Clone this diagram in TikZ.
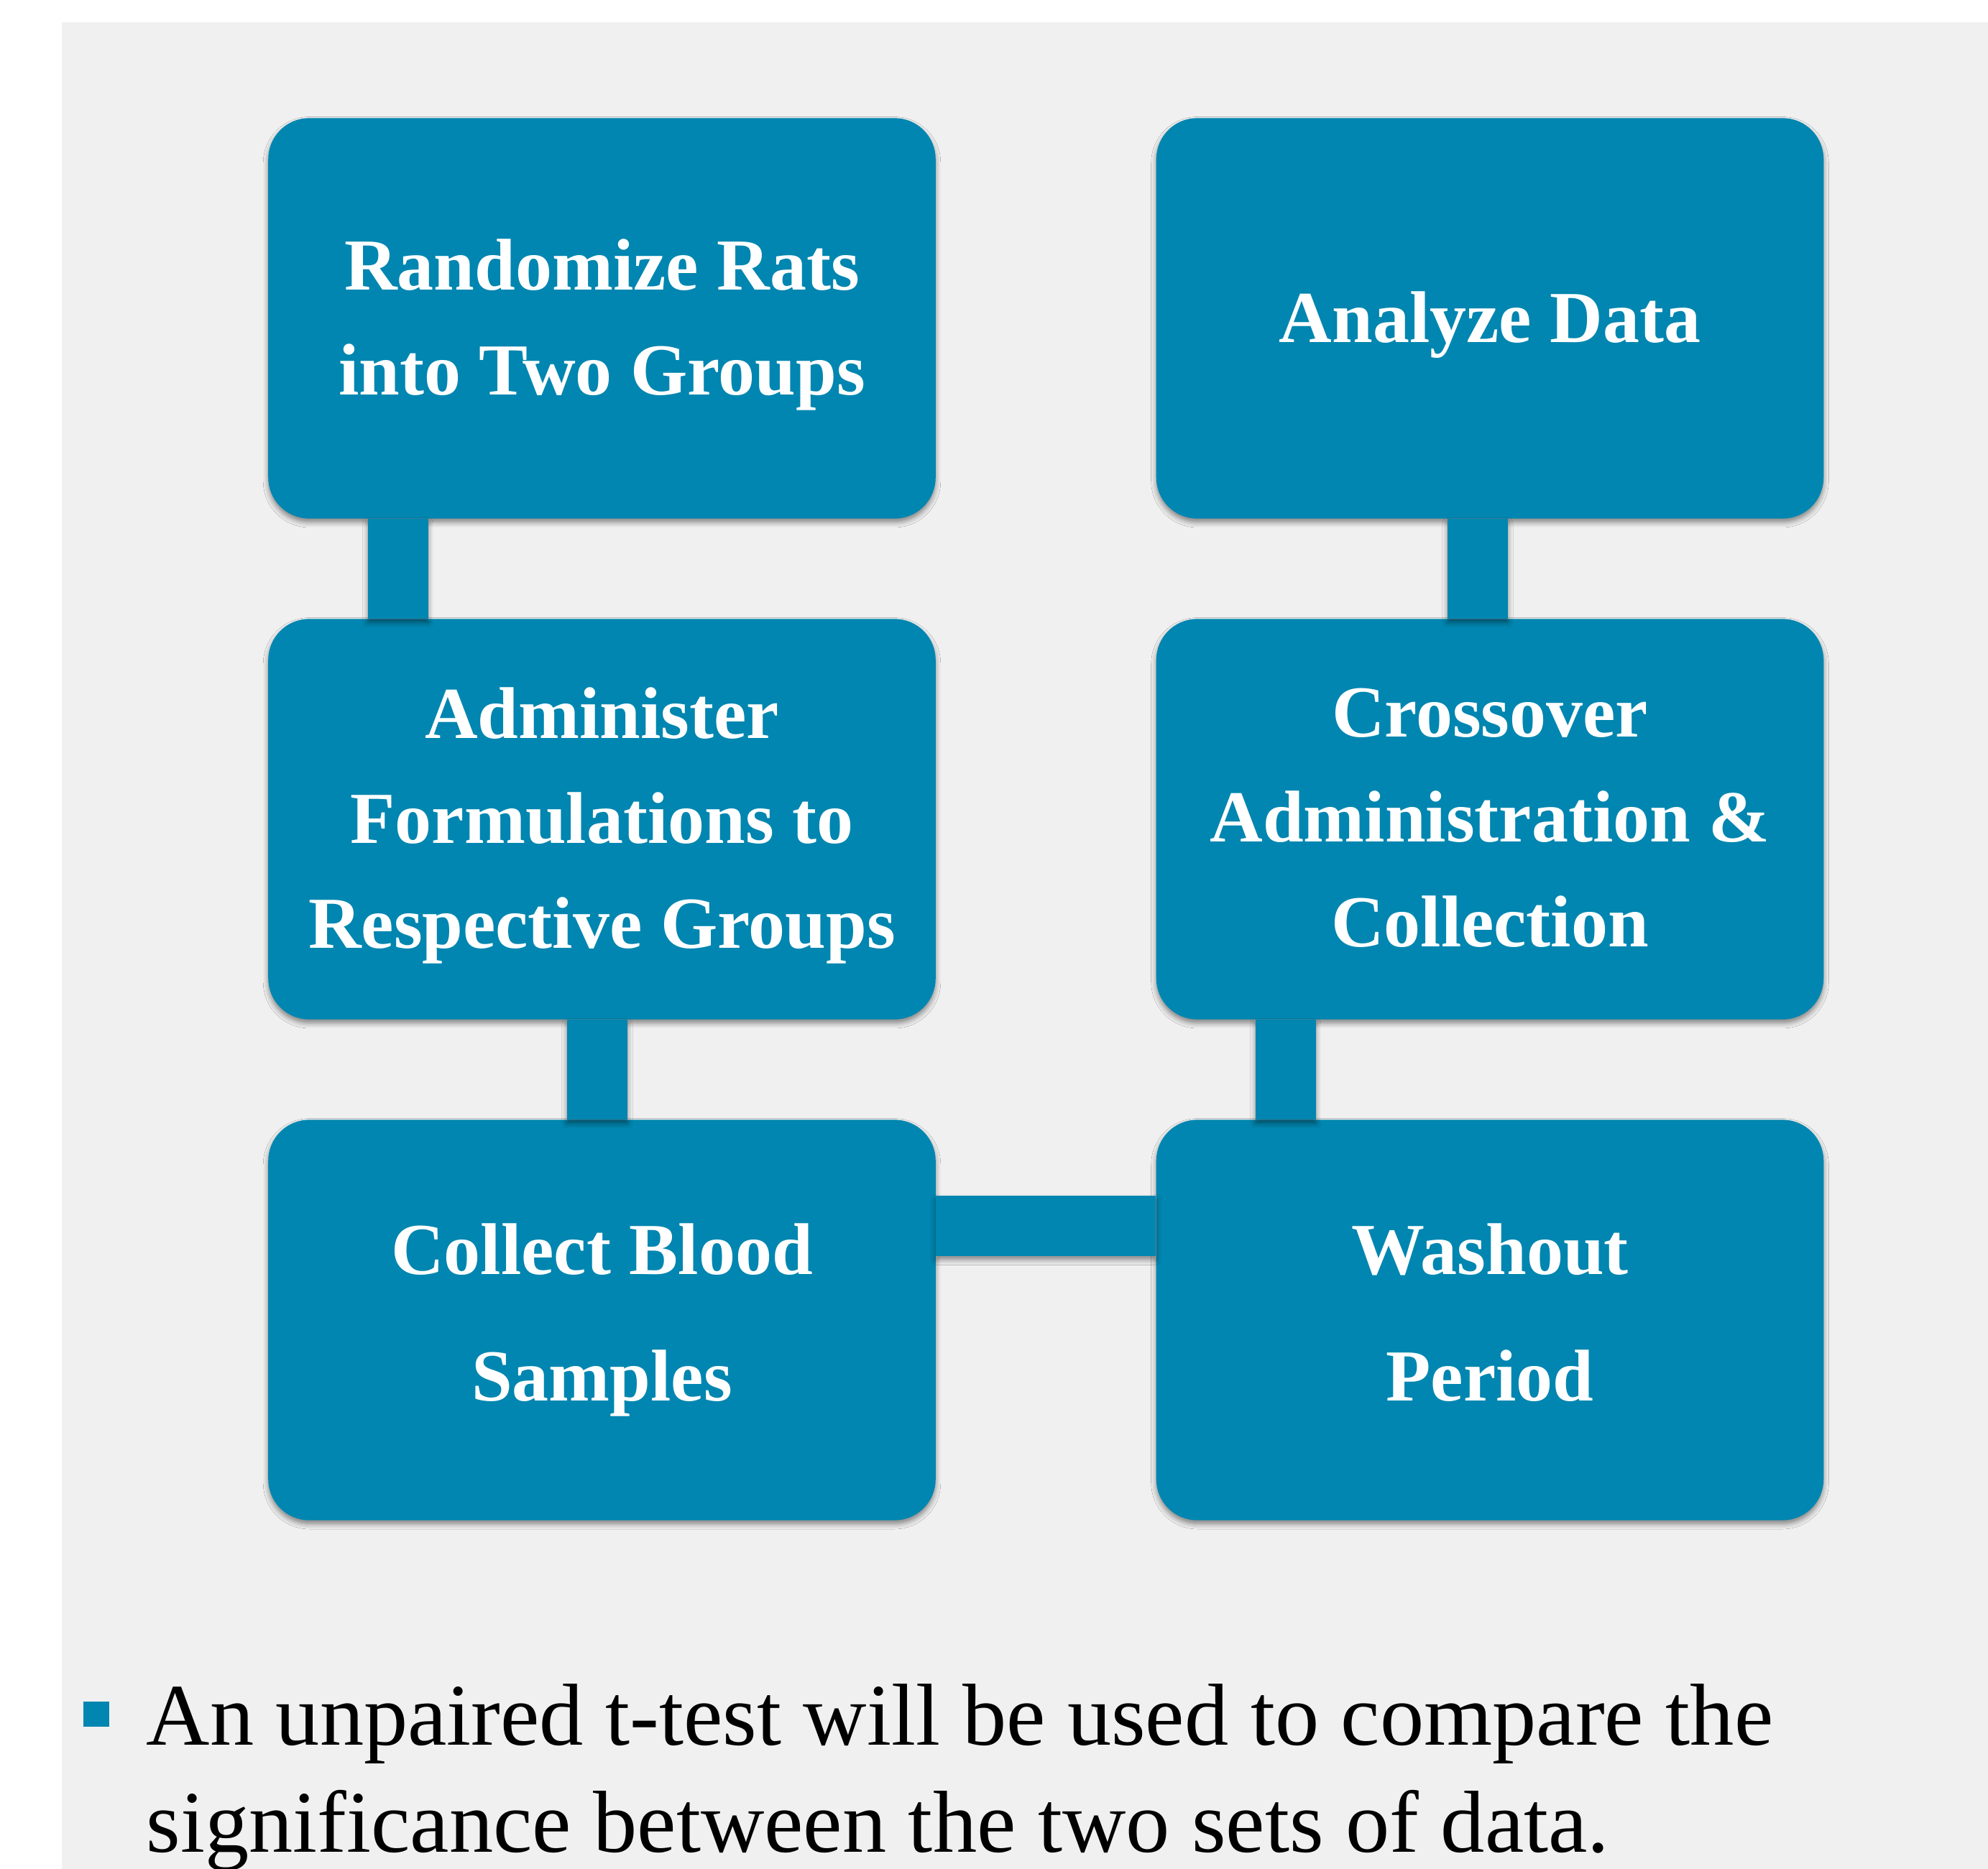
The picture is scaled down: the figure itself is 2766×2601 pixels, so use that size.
\documentclass[tikz,border=0pt]{standalone}
\usepackage{fontspec}
\setmainfont{Liberation Serif}
\usetikzlibrary{shadows.blur}

\definecolor{stepblue}{RGB}{0,134,176}
\definecolor{slidegray}{RGB}{240,240,240}

\begin{document}
\begin{tikzpicture}
  [x=0.01cm,y=-0.01cm,
   stepbox/.style={rectangle,rounded corners=0.57cm,fill=stepblue,text=white,
     minimum width=9.28cm,minimum height=5.57cm,align=center,text depth=1.3pt,
     font=\bfseries\fontsize{29}{41.5}\selectfont,
     blur shadow={shadow xshift=0pt,shadow yshift=-1.5pt,shadow blur radius=2pt,shadow opacity=45}},
   widebox/.style={stepbox,text depth=6.3pt,font=\bfseries\fontsize{29}{50}\selectfont},
   link/.style={fill=stepblue,
     blur shadow={shadow xshift=0pt,shadow yshift=-1.5pt,shadow blur radius=2pt,shadow opacity=45}}]
  \useasboundingbox (0,0) rectangle (2766,2601);
  \fill[slidegray] (86,31) rectangle (2766,2601);

  \node[stepbox] (rats) at (837.5,443) {Randomize Rats\\into Two Groups};
  \node[stepbox] (admin) at (837.5,1140) {Administer\\Formulations to\\Respective Groups};
  \node[widebox] (blood) at (837.5,1837) {Collect Blood\\Samples};
  \node[widebox] (washout) at (2073,1837) {Washout\\Period};
  \node[stepbox] (cross) at (2073,1140) {Crossover\\Administration \&\\Collection};
  \node[stepbox] (data) at (2073,443) {Analyze Data};

  % bars between the steps
  \fill[link] ([xshift=-3.255cm]rats.south) rectangle ([xshift=-2.415cm]admin.north);
  \fill[link] ([xshift=-0.485cm]admin.south) rectangle ([xshift=0.355cm]blood.north);
  \fill[link] ([yshift=1.73cm]blood.east) rectangle ([yshift=0.89cm]washout.west);
  \fill[link] ([xshift=-3.26cm]washout.north) rectangle ([xshift=-2.42cm]cross.south);
  \fill[link] ([xshift=-0.59cm]cross.north) rectangle ([xshift=0.25cm]data.south);

  \node[fill=stepblue,minimum width=0.36cm,minimum height=0.35cm,inner sep=0pt] (dot) at (134,2385.5) {};
  \node[anchor=base west,inner sep=0pt,align=left,font=\fontsize{34.8}{42.1}\selectfont] (note) at (203,2577)
    {An unpaired t-test will be used to compare the\\significance between the two sets of data.};
\end{tikzpicture}
\end{document}
